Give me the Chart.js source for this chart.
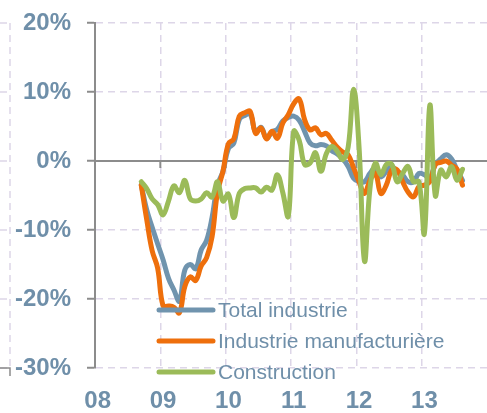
<!DOCTYPE html>
<html>
<head>
<meta charset="utf-8">
<script src="https://cdn.jsdelivr.net/npm/chart.js@4"></script>
<style>
    html, body { margin: 0; padding: 0; background: #fff; }
    #zone { width: 487px; height: 413px; }
</style>
</head>
<body>
<div id="zone"><canvas id="graphique"></canvas></div>
<script>
// Glissement annuel de la production (en %), données mensuelles
// de sept. 2008 à août 2013.

const annees = ['08', '09', '10', '11', '12', '13'];
const nomsMois = ['janv.', 'févr.', 'mars', 'avr.', 'mai', 'juin', 'juil.', 'août', 'sept.', 'oct.', 'nov.', 'déc.'];
const moisAvantDebut = 8; // la série commence en septembre 2008

const totalIndustrie = [
    -3.5, -7.1, -9.6, -12.0, -14.3, -17.0, -18.7, -20.3, -15.8, -15.0, -15.6, -12.9,
    -11.5, -8.2, -3.5, -1.5, 1.8, 2.6, 6.0, 6.6, 6.8, 4.2, 4.9, 3.3,
    4.2, 4.6, 5.8, 6.3, 6.5, 5.9, 4.3, 2.6, 2.2, 2.4, 2.2, 1.5,
    1.0, 0.3, -0.8, -2.5, -3.0, -3.0, -1.8, -1.0, -2.3, -1.5, -0.8, -1.5,
    -2.0, -3.0, -3.0, -1.8, -2.0, -2.5, -0.5, 0.3, 0.9, 0.3, -1.3, -2.8
];
const industrieManuf = [
    -3.5, -8.5, -13.0, -15.5, -21.0, -21.0, -21.2, -22.0, -18.2, -16.8, -17.3, -15.2,
    -14.0, -11.0, -4.5, -1.5, 2.5, 3.2, 6.5, 7.0, 7.2, 4.0, 4.8, 3.2,
    4.3, 3.3, 5.5, 6.7, 8.3, 9.0, 6.0, 4.5, 4.8, 3.8, 4.0, 3.0,
    2.0, 1.3, 0.9, -1.0, -3.0, -4.7, -2.8, -1.8, -4.7, -3.5, -1.3, -1.3,
    -3.0, -4.5, -5.2, -3.7, -3.5, -3.0, -0.5, -0.2, 0.0, -0.6, -1.2, -3.5
];
const construction = [
    -3.0, -4.0, -5.5, -6.3, -7.8, -5.8, -3.6, -4.6, -2.8, -5.5, -5.8, -5.5,
    -4.6, -5.2, -3.0, -5.8, -4.8, -8.2, -4.7, -4.0, -3.9, -3.9, -4.5, -3.8,
    -4.2, -2.0, -4.6, -8.0, 4.3, 3.0, -0.5, -0.3, 1.2, -1.5, 1.1, 2.1,
    1.4, 0.2, 2.0, 10.4, 2.0, -14.5, -4.0, -0.3, -2.0, -0.5, -0.5, -3.0,
    -1.8, -0.8, -3.0, -3.0, -10.5, 8.1, -5.0, -1.3, -2.3, -0.8, -2.8, -1.2
];
const nomsSeries = ['Total industrie', 'Industrie manufacturière', 'Construction'];
const couleursSeries = ['#7094ae', '#ee6f0c', '#9bbb59'];
const ticksY = [-30, -20, -10, 0, 10, 20];

const couleurTexte = '#6f8fa9';
const couleurGrille = '#ddd6e8';
const couleurAxe = '#8c8c8c';

const etiquettes = annees.flatMap(a => nomsMois.map(m => m + ' ' + a));

function aligner(valeurs) {
    // place les valeurs sur l'axe mensuel (null avant le début et après la fin)
    let serie = new Array(moisAvantDebut).fill(null).concat(valeurs);
    while (serie.length < etiquettes.length) serie.push(null);
    return serie;
}

// Bord du graphique voisin, coupé à gauche de l'image
const bordVoisin = {
    id: 'bordVoisin',
    beforeDraw(chart) {
        const { ctx, chartArea, scales } = chart;
        const xb = 10;
        ctx.save();
        ctx.strokeStyle = couleurGrille;
        ctx.lineWidth = 1.5;
        ctx.setLineDash([7, 5]);
        ctx.beginPath();
        ctx.moveTo(xb, chartArea.top);
        ctx.lineTo(xb, chartArea.bottom);
        ticksY.forEach(v => {
            const y = scales.y.getPixelForValue(v);
            ctx.moveTo(0, y);
            ctx.lineTo(xb, y);
        });
        ctx.stroke();
        ctx.setLineDash([]);
        ctx.strokeStyle = couleurAxe;
        ctx.beginPath();
        ctx.moveTo(0, chartArea.bottom);
        ctx.lineTo(xb, chartArea.bottom);
        ctx.lineTo(xb, chartArea.bottom + 8);
        ctx.stroke();
        ctx.restore();
    }
};

// Ligne du zéro (pleine) avec ses petites graduations annuelles
const ligneZero = {
    id: 'ligneZero',
    beforeDatasetsDraw(chart) {
        const { ctx, chartArea, scales } = chart;
        const y = scales.y.getPixelForValue(0);
        ctx.save();
        ctx.strokeStyle = couleurAxe;
        ctx.lineWidth = 2;
        ctx.beginPath();
        ctx.moveTo(chartArea.left, y);
        ctx.lineTo(chartArea.right, y);
        const largeurMois = (chartArea.right - chartArea.left) / etiquettes.length;
        for (let i = 0; i < etiquettes.length; i += 12) {
            const x = chartArea.left + i * largeurMois;
            ctx.moveTo(x, y);
            ctx.lineTo(x, y + 7);
        }
        ctx.stroke();
        ctx.restore();
    }
};

// Légende dessinée dans la zone du graphique, en bas à gauche
const legendeInterne = {
    id: 'legendeInterne',
    afterDatasetsDraw(chart) {
        const { ctx, chartArea } = chart;
        const x0 = chartArea.left + 64;
        const x1 = x0 + 54;
        ctx.save();
        ctx.font = '21px "Liberation Sans", Arial, sans-serif';
        ctx.textBaseline = 'middle';
        ctx.lineCap = 'round';
        nomsSeries.forEach((nom, i) => {
            const y = chartArea.bottom - 58 + i * 31;
            ctx.strokeStyle = couleursSeries[i];
            ctx.lineWidth = 5;
            ctx.beginPath();
            ctx.moveTo(x0, y);
            ctx.lineTo(x1, y);
            ctx.stroke();
            ctx.fillStyle = couleurTexte;
            ctx.fillText(nom, x1 + 5, y + 1);
        });
        ctx.restore();
    }
};

const series = [totalIndustrie, industrieManuf, construction];

new Chart(document.getElementById('graphique'), {
    type: 'line',
    data: {
        labels: etiquettes,
        datasets: series.map((valeurs, i) => ({
            label: nomsSeries[i],
            data: aligner(valeurs),
            borderColor: couleursSeries[i],
            backgroundColor: 'transparent',
            borderWidth: 5,
            borderCapStyle: 'round',
            borderJoinStyle: 'round',
            pointRadius: 0,
            tension: 0.4,
            order: 2 - i
        }))
    },
    options: {
        responsive: true,
        maintainAspectRatio: false,
        animation: false,
        layout: { padding: { top: 23, right: 0, bottom: 0, left: 0 } },
        plugins: {
            legend: { display: false },
            tooltip: { enabled: false }
        },
        scales: {
            x: {
                type: 'category',
                offset: true,
                afterFit: s => {
                    s.height = 45;
                    s.paddingLeft = 0;
                    s.paddingRight = 0;
                },
                grid: {
                    offset: true,
                    drawTicks: false,
                    lineWidth: 1.5,
                    color: c => (c.index % 12 === 0 && c.index > 0) ? couleurGrille : 'transparent'
                },
                border: { display: false, dash: [7, 5] },
                ticks: {
                    autoSkip: false,
                    maxRotation: 0,
                    padding: 19,
                    color: couleurTexte,
                    font: { family: '"Liberation Sans", Arial, sans-serif', size: 24, weight: 'bold' },
                    callback: (v, i) => i % 12 === 0 ? annees[i / 12] : ''
                }
            },
            y: {
                min: -30,
                max: 20,
                afterFit: s => {
                    s.width = 95;
                    s.paddingTop = 0;
                    s.paddingBottom = 0;
                },
                afterBuildTicks: s => { s.ticks = ticksY.map(v => ({ value: v })); },
                grid: {
                    color: couleurGrille,
                    lineWidth: 1.5,
                    tickColor: couleurAxe,
                    tickLength: 8,
                    tickWidth: 2
                },
                border: { display: true, color: couleurAxe, width: 2, dash: [7, 5] },
                ticks: {
                    padding: 16,
                    color: couleurTexte,
                    font: { family: '"Liberation Sans", Arial, sans-serif', size: 24, weight: 'bold' },
                    callback: v => v + '%'
                }
            }
        }
    },
    plugins: [bordVoisin, ligneZero, legendeInterne]
});
</script>
</body>
</html>
